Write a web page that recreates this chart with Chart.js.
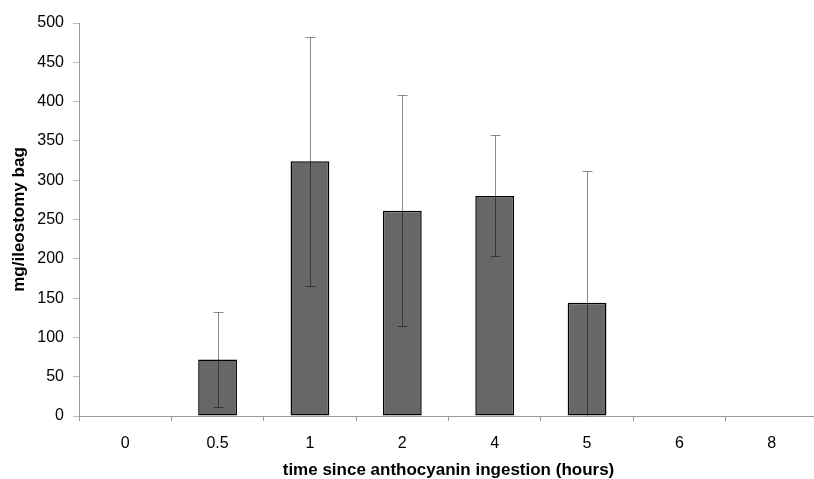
<!DOCTYPE html>
<html>
<head>
<meta charset="utf-8">
<script src="https://cdn.jsdelivr.net/npm/chart.js@4"></script>
<style>
  html, body { margin: 0; padding: 0; background: #fff; overflow: hidden; }
  #wrap { width: 814px; height: 479px; overflow: hidden; }
  #box { width: 830px; height: 481px; }
</style>
</head>
<body>
<div id="wrap"><div id="box"><canvas id="chart"></canvas></div></div>
<script>
// hours after ingestion
const heures = ["0", "0.5", "1", "2", "4", "5", "6", "8"];
// mean mg per ileostomy bag
const moyennes = [0, 72, 324, 261, 280, 144, 0, 0];
// standard deviation (error bars)
const ecarts = [0, 60, 158, 147, 77, 168, 0, 0];
const yTicks = [0, 50, 100, 150, 200, 250, 300, 350, 400, 450, 500];

const police = "'Liberation Sans', Arial, Helvetica, sans-serif";

// error bars drawn on top of the bars, clipped to the axis range
const barresErreur = {
  id: "barresErreur",
  afterDatasetsDraw(chart) {
    const ctx = chart.ctx;
    const x = chart.scales.x;
    const y = chart.scales.y;
    ctx.save();
    ctx.lineWidth = 1;
    ctx.strokeStyle = "rgba(0, 0, 0, 0.45)";
    moyennes.forEach((m, i) => {
      const sd = ecarts[i];
      if (!sd) return;
      const px = Math.round(x.getPixelForValue(i)) + 0.5;
      const bas = Math.max(m - sd, y.min);
      const yh = Math.round(y.getPixelForValue(m + sd)) + 0.5;
      const yb = Math.round(y.getPixelForValue(bas)) + 0.5;
      ctx.beginPath();
      ctx.moveTo(px, yh);
      ctx.lineTo(px, yb);
      ctx.moveTo(px - 5, yh);
      ctx.lineTo(px + 5, yh);
      if (m - sd >= y.min) {
        ctx.moveTo(px - 5, yb);
        ctx.lineTo(px + 5, yb);
      }
      ctx.stroke();
    });
    ctx.restore();
  }
};

new Chart(document.getElementById("chart"), {
  type: "bar",
  data: {
    labels: heures,
    datasets: [{
      data: moyennes,
      backgroundColor: "#676767",
      borderColor: "#000000",
      borderWidth: 1.5,
      borderSkipped: false,
      barPercentage: 0.42,
      categoryPercentage: 1
    }]
  },
  options: {
    responsive: true,
    maintainAspectRatio: false,
    animation: false,
    layout: { padding: { left: 9, top: 23, right: 12, bottom: 0 } },
    plugins: { legend: { display: false }, tooltip: { enabled: false } },
    scales: {
      x: {
        grid: {
          offset: true,
          drawOnChartArea: false,
          drawTicks: true,
          tickLength: 5,
          tickColor: "#9a9a9a"
        },
        border: { color: "#9a9a9a", width: 1 },
        ticks: {
          color: "#000",
          padding: 13,
          font: { family: police, size: 16 }
        },
        title: {
          display: true,
          text: "time since anthocyanin ingestion (hours)",
          color: "#000",
          font: { family: police, size: 17, weight: "bold" },
          padding: { top: 6, bottom: 0 }
        },
        afterFit(scale) { scale.height = 65; }
      },
      y: {
        min: 0,
        max: 500,
        afterBuildTicks(scale) { scale.ticks = yTicks.map(v => ({ value: v })); },
        grid: {
          drawOnChartArea: false,
          drawTicks: true,
          tickLength: 6,
          tickColor: "#bdbdbd"
        },
        border: { color: "#9a9a9a", width: 1 },
        ticks: {
          color: "#000",
          padding: 9,
          font: { family: police, size: 16 }
        },
        title: {
          display: true,
          text: "mg/ileostomy bag",
          color: "#000",
          font: { family: police, size: 17, weight: "bold" },
          padding: { top: 0, bottom: 0 }
        },
        afterFit(scale) { scale.width = 70; }
      }
    }
  },
  plugins: [barresErreur]
});
</script>
</body>
</html>
